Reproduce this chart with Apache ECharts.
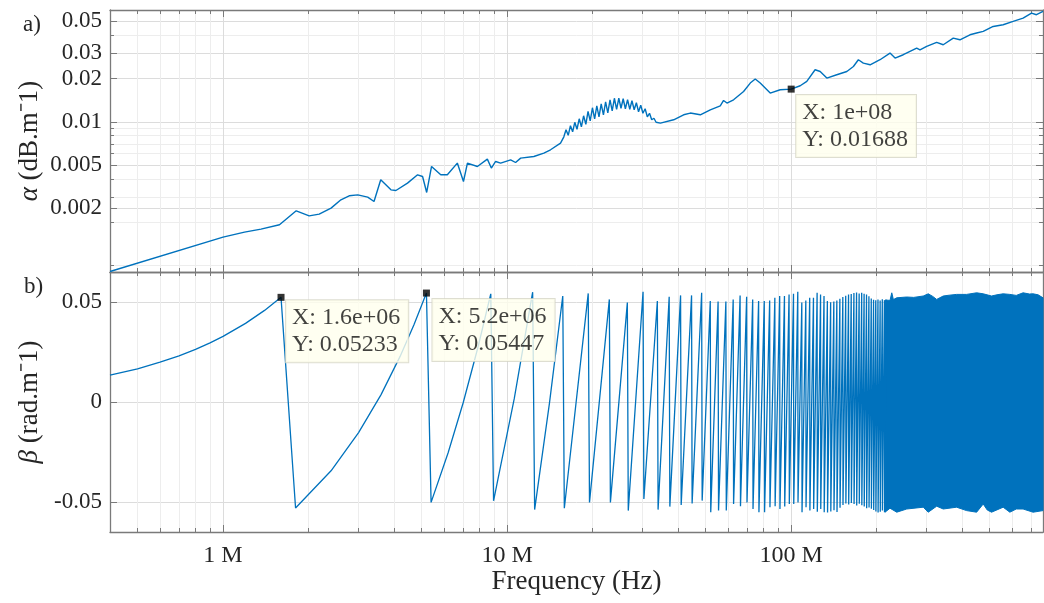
<!DOCTYPE html>
<html>
<head>
<meta charset="utf-8">
<script src="https://cdn.jsdelivr.net/npm/echarts@6/dist/echarts.min.js"></script>
<style>
  html, body { margin: 0; padding: 0; background: #ffffff; }
  #chart { width: 1044px; height: 603px; }
</style>
</head>
<body>
<div id="chart"></div>
<script>
// Frequencies are in MHz throughout.

// a) attenuation alpha (dB/m) versus frequency
const alphaPoints = [
  [0.4, 0.000907], [1.0, 0.001574], [1.19, 0.001706], [1.36, 0.00179], [1.58, 0.001918],
  [1.81, 0.0024], [2.01, 0.002215], [2.18, 0.002277], [2.40, 0.002506], [2.60, 0.002862],
  [2.78, 0.003053], [2.98, 0.003101], [3.23, 0.00299], [3.40, 0.002786], [3.59, 0.003946],
  [3.90, 0.00336], [4.06, 0.003322], [4.46, 0.003741], [4.84, 0.004274], [5.04, 0.004159],
  [5.21, 0.003219], [5.42, 0.004884], [5.84, 0.004274], [6.16, 0.004274], [6.68, 0.005158],
  [7.02, 0.003839], [7.25, 0.005158], [7.86, 0.004884], [8.52, 0.005497], [8.80, 0.004761],
  [9.11, 0.005292], [9.49, 0.005158], [10.29, 0.005437], [10.71, 0.005207], [11.16, 0.005586],
  [12.42, 0.005732], [13.47, 0.006053], [14.22, 0.006383], [15.42, 0.007105],
  [15.84, 0.00786], [16.12, 0.00880], [16.41, 0.00805], [16.71, 0.00938], [17.01, 0.00852],
  [17.31, 0.00992], [17.62, 0.00887], [17.94, 0.01049], [18.26, 0.00923], [18.59, 0.01101],
  [18.93, 0.00961], [19.27, 0.01183], [19.61, 0.01016], [19.97, 0.01252], [20.33, 0.01049],
  [20.69, 0.01292], [21.06, 0.01083], [21.44, 0.01334], [21.83, 0.01119], [22.22, 0.01378],
  [22.62, 0.01155], [23.03, 0.01423], [23.44, 0.01193], [23.86, 0.01458], [24.29, 0.01222],
  [24.73, 0.01458], [25.17, 0.01242], [25.62, 0.01446], [26.08, 0.01232], [26.55, 0.01423],
  [27.03, 0.01222], [27.51, 0.01400], [28.01, 0.01212], [28.51, 0.01356], [29.02, 0.01174],
  [29.54, 0.01303], [30.07, 0.01146], [30.61, 0.01232], [31.16, 0.01083], [31.72, 0.01146],
  [32.29, 0.01033], [32.87, 0.01058], [33.46, 0.00992], [34.64, 0.00979], [38.58, 0.01033],
  [41.82, 0.01119], [44.16, 0.01150], [47.87, 0.01119], [51.91, 0.01212], [56.28, 0.01292],
  [57.81, 0.01407], [59.43, 0.01350], [62.69, 0.01423], [67.99, 0.01626], [71.77, 0.01860],
  [74.73, 0.01984], [77.81, 0.01860], [84.37, 0.01585], [91.47, 0.01671], [100, 0.01688],
  [107.6, 0.01781], [113.5, 0.01909], [121.4, 0.02302], [126.5, 0.02240], [133.5, 0.02015],
  [144.7, 0.02125], [157.0, 0.02240], [165.6, 0.02427], [172.4, 0.02703], [179.5, 0.02563],
  [189.6, 0.02494], [205.5, 0.02703], [222.8, 0.03009], [232.1, 0.02777], [248.1, 0.02929],
  [276.6, 0.03261], [284.1, 0.03172], [299.9, 0.03345], [325.2, 0.03566], [343.0, 0.03437],
  [372.0, 0.03827], [392.7, 0.03724], [425.9, 0.04035], [449.6, 0.04147], [474.3, 0.04255],
  [514.1, 0.04610], [557.5, 0.04738], [604.3, 0.04994], [655.3, 0.05274], [701.5, 0.05714],
  [730.4, 0.05562], [770, 0.05862]
];

// b) wrapped phase constant beta (rad/m): rising ramps, each ending in a drop
const betaPoints = [
  [0.4, 0.0134], [0.5, 0.0166], [0.6, 0.0199], [0.7, 0.0231], [0.8, 0.0263], [0.9, 0.0296],
  [1.0, 0.0328], [1.2, 0.0393], [1.4, 0.0458], [1.6, 0.05233],
  [1.8, -0.0530], [2.4, -0.0344], [3.0, -0.0153], [3.6, 0.0037], [4.2, 0.0228], [4.7, 0.0386], [5.2, 0.05447],
  [5.4, -0.0502], [6.2, -0.0254], [7.0, -0.0005], [7.9, 0.0275], [8.76, 0.0541],
  [8.96, -0.0494], [10.6, 0.0018], [12.3, 0.0549],
  [12.5, -0.0538], [14.1, -0.0004], [15.7, 0.0530],
  [15.9, -0.0531], [19.3, 0.0543],
  [19.5, -0.0502], [22.9, 0.0513],
  [23.1, -0.0502], [26.5, 0.0497],
  [26.7, -0.0543], [30.1, 0.0551],
  [30.3, -0.0485], [33.8, 0.0505],
  [34.0, -0.0538], [37.2, 0.0526],
  [37.4, -0.0523], [40.8, 0.0533],
  [41.0, -0.0515], [44.6, 0.0533],
  [44.8, -0.0507], [48.4, 0.0546],
  [48.6, -0.0493], [51.9, 0.0505],
  [52.1, -0.0551], [55.3, 0.0502],
  [55.5, -0.0543], [58.9, 0.0502],
  [59.1, -0.0543], [62.5, 0.0513],
  [62.7, -0.0510], [66.1, 0.0533],
  [66.3, -0.0521], [69.7, 0.0526],
  [69.9, -0.0502], [73.2, 0.0513],
  [73.4, -0.0535], [76.8, 0.0505],
  [77.0, -0.0551], [80.4, 0.0505],
  [80.6, -0.0551], [84.0, 0.0508],
  [84.2, -0.0526], [87.6, 0.0521],
  [87.8, -0.0521], [91.1, 0.0530],
  [91.3, -0.0535], [94.7, 0.0530],
  [94.9, -0.0523], [98.3, 0.0538],
  [98.5, -0.0510], [101.9, 0.0541],
  [102.1, -0.0510], [105.5, 0.0551],
  [105.7, -0.0502], [109.0, 0.0497],
  [109.2, -0.0551], [112.6, 0.0508],
  [112.8, -0.0526], [116.2, 0.0521],
  [116.4, -0.0543], [119.8, 0.0521],
  [120.0, -0.0535], [123.4, 0.0546],
  [123.6, -0.0549], [126.9, 0.0538],
  [127.1, -0.0535], [130.5, 0.0530],
  [130.7, -0.0551], [134.1, 0.0505],
  [134.3, -0.0553], [137.7, 0.0499],
  [137.9, -0.0548], [141.3, 0.0503],
  [141.5, -0.0541], [144.8, 0.0508],
  [145.0, -0.0550], [148.4, 0.0516],
  [148.6, -0.0529], [152.0, 0.0525],
  [152.2, -0.0515], [155.6, 0.0531],
  [155.8, -0.0508], [159.2, 0.0537],
  [159.4, -0.0512], [162.7, 0.0540],
  [162.9, -0.0505], [166.3, 0.0545],
  [166.5, -0.0510], [169.9, 0.0548],
  [170.1, -0.0518], [173.5, 0.0543],
  [173.7, -0.0509], [177.1, 0.0546],
  [177.3, -0.0516], [180.6, 0.0541],
  [180.8, -0.0522], [184.2, 0.0537],
  [184.4, -0.0531], [187.8, 0.0529],
  [188.0, -0.0527], [191.4, 0.0518],
  [191.6, -0.0534], [195.0, 0.0511],
  [195.2, -0.0540], [198.5, 0.0509],
  [198.7, -0.0547], [202.1, 0.0512],
  [202.3, -0.0552], [205.7, 0.0508],
  [205.9, -0.0549], [209.3, 0.0514],
  [209.5, -0.0543], [212.9, 0.0509],
  [213.1, -0.0551], [216.4, 0.0511]
];

// upper and lower edges of the region where the ramps merge into a solid band
const bandTop = [
  [214, 0.0510], [222.8, 0.0508], [226, 0.0546], [229, 0.0512], [235.3, 0.0521], [255.1, 0.0525],
  [270, 0.0523], [291.7, 0.0530], [303.8, 0.0541], [315, 0.0528], [325.2, 0.0513], [343, 0.0530],
  [360, 0.0534], [382.2, 0.0538], [414.5, 0.0538], [449.6, 0.0546], [474.3, 0.0541], [507.5, 0.0530],
  [530, 0.0536], [557.5, 0.0541], [588.6, 0.0538], [620, 0.0533], [655.3, 0.0546], [690, 0.0540],
  [710.7, 0.0541], [740, 0.0536], [770, 0.0521]
];
const bandBottom = [
  [214, -0.0551], [222.8, -0.0531], [235.3, -0.0551], [255.1, -0.0535], [291.7, -0.0526],
  [303.8, -0.0551], [325.2, -0.0521], [343, -0.0535], [382.2, -0.0526], [414.5, -0.0543],
  [449.6, -0.0551], [474.3, -0.0510], [490, -0.0540], [507.5, -0.0551], [557.5, -0.0526],
  [588.6, -0.0551], [620, -0.0535], [655.3, -0.0535], [710.7, -0.0551], [770, -0.0543]
];

// data tips
const alphaTips = [[100, 0.01688]];
const betaTips = [[1.6, 0.05233], [5.2, 0.05447]];

// axis ranges and ticks
const freqRange = [0.4, 770];
const freqTicks = [1, 10, 100];
const freqTickLabels = ['1 M', '10 M', '100 M'];
const freqMinorTicks = [0.5, 0.6, 0.7, 0.8, 0.9, 2, 3, 4, 5, 6, 7, 8, 9,
  20, 30, 40, 50, 60, 70, 80, 90, 200, 300, 400, 500, 600, 700];
const alphaRange = [0.0009, 0.06];
const alphaTicks = [0.0025, 0.005, 0.01, 0.02, 0.03, 0.05];
const alphaTickLabels = ['0.002', '0.005', '0.01', '0.02', '0.03', '0.05'];
const alphaMinorTicks = [0.001, 0.002, 0.003, 0.004, 0.006, 0.007, 0.008, 0.009, 0.04];
const betaRange = [-0.065, 0.065];
const betaTicks = [-0.05, 0, 0.05];
const betaTickLabels = ['-0.05', '0', '0.05'];

const BLUE = '#0072BD';
const AXIS = '#7a7a7a';
const GRID_MAJOR = '#dcdcdc';
const GRID_MINOR = '#ededed';
const TEXT = '#262626';
const FONT = '"Liberation Serif", "Times New Roman", serif';

// %.4g style number text, e.g. 1e+08, 1.6e+06, 0.01688
function gFormat(v) {
  if (v === 0) return '0';
  const e = Math.floor(Math.log10(Math.abs(v)) + 1e-12);
  if (e < -5 || e >= 4) {
    const m = String(parseFloat((v / Math.pow(10, e)).toPrecision(4)));
    const ee = Math.abs(e);
    return m + 'e' + (e < 0 ? '-' : '+') + (ee < 10 ? '0' : '') + ee;
  }
  return String(parseFloat(v.toPrecision(4)));
}

function labelFor(values, labels) {
  return function (v) {
    for (let i = 0; i < values.length; i++) {
      if (Math.abs(v - values[i]) <= Math.abs(values[i]) * 1e-6 + 1e-12) return labels[i];
    }
    return '';
  };
}

function tickAxis(extra, ticks, len, showLine, splitColor) {
  return Object.assign({
    axisLine: { show: showLine, onZero: false, lineStyle: { color: AXIS, width: 1.3 } },
    axisTick: { show: true, inside: true, length: len, customValues: ticks, lineStyle: { color: AXIS, width: 1 } },
    splitLine: splitColor ? { show: true, lineStyle: { color: splitColor, width: 1 } } : { show: false },
    minorTick: { show: false },
    minorSplitLine: { show: false },
    axisLabel: { show: false },
    nameMoveOverlap: false
  }, extra);
}

function freqAxes(gridIndex, withLabels) {
  const base = { type: 'log', logBase: 10, gridIndex: gridIndex, min: freqRange[0], max: freqRange[1] };
  const major = tickAxis(Object.assign({ position: 'bottom' }, base), freqTicks, 7, true, GRID_MAJOR);
  if (withLabels) {
    major.axisLabel = {
      show: true, customValues: freqTicks, formatter: labelFor(freqTicks, freqTickLabels),
      margin: 12, fontFamily: FONT, fontSize: 24, color: TEXT
    };
    major.name = 'Frequency (Hz)';
    major.nameLocation = 'middle';
    major.nameGap = 36;
    major.nameTextStyle = { fontFamily: FONT, fontSize: 27, color: TEXT };
  }
  return [
    major,
    tickAxis(Object.assign({ position: 'bottom' }, base), freqMinorTicks, 4, false, GRID_MINOR),
    tickAxis(Object.assign({ position: 'top' }, base), freqTicks, 7, true, null),
    tickAxis(Object.assign({ position: 'top' }, base), freqMinorTicks, 4, false, null)
  ];
}

const yNameStyle = {
  fontFamily: FONT, fontSize: 27, color: TEXT,
  rich: { i: { fontFamily: FONT, fontSize: 27, fontStyle: 'italic', color: TEXT } }
};

const alphaBase = { type: 'log', logBase: 10, gridIndex: 0, min: alphaRange[0], max: alphaRange[1] };
const alphaLeft = tickAxis(Object.assign({ position: 'left' }, alphaBase), alphaTicks, 7, true, GRID_MAJOR);
alphaLeft.axisLabel = {
  show: true, customValues: alphaTicks, formatter: labelFor(alphaTicks, alphaTickLabels),
  margin: 8, fontFamily: FONT, fontSize: 23, color: TEXT
};
alphaLeft.name = '{i|\u03B1} (dB.m\u207B1)';
alphaLeft.nameLocation = 'middle';
alphaLeft.nameGap = 67;
alphaLeft.nameTextStyle = yNameStyle;

const betaBase = { type: 'value', gridIndex: 1, min: betaRange[0], max: betaRange[1] };
const betaLeft = tickAxis(Object.assign({ position: 'left' }, betaBase), betaTicks, 7, true, GRID_MAJOR);
betaLeft.axisLabel = {
  show: true, customValues: betaTicks, formatter: labelFor(betaTicks, betaTickLabels),
  margin: 8, fontFamily: FONT, fontSize: 23, color: TEXT
};
betaLeft.name = '{i|\u03B2} (rad.m\u207B1)';
betaLeft.nameLocation = 'middle';
betaLeft.nameGap = 67;
betaLeft.nameTextStyle = yNameStyle;

const yAxes = [
  alphaLeft,                                                                              // 0
  tickAxis(Object.assign({ position: 'left' }, alphaBase), alphaMinorTicks, 4, false, GRID_MINOR), // 1
  tickAxis(Object.assign({ position: 'right' }, alphaBase), alphaTicks, 7, true, null),    // 2
  tickAxis(Object.assign({ position: 'right' }, alphaBase), alphaMinorTicks, 4, false, null), // 3
  betaLeft,                                                                               // 4
  tickAxis(Object.assign({ position: 'right' }, betaBase), betaTicks, 7, true, null)       // 5
];

const xAxes = freqAxes(0, false).concat(freqAxes(1, true)); // 0-3 top panel, 4-7 bottom panel

const tipLabel = {
  show: true,
  formatter: function (p) { return 'X: ' + gFormat(p.value[0] * 1e6) + '\nY: ' + gFormat(p.value[1]); },
  align: 'left', verticalAlign: 'top',
  backgroundColor: '#ffffed', borderColor: '#d6d6c6', borderWidth: 1,
  padding: [4, 8, 4, 6], fontFamily: FONT, fontSize: 24, lineHeight: 27,
  color: '#111111', textBorderWidth: 0, textBorderColor: 'transparent'
};
// label box offsets relative to each tip marker
const alphaTipOffsets = [[8.5, 9.5]];
const betaTipOffsets = [[8.5, 6.5], [9.5, 9.5]];

function tipData(points, offsets) {
  return points.map(function (p, i) {
    return { value: p, label: { position: offsets[i] } };
  });
}

const option = {
  animation: false,
  backgroundColor: '#ffffff',
  grid: [
    { left: 110, top: 10, width: 933, height: 262, outerBoundsMode: 'none', containLabel: false },
    { left: 110, top: 272, width: 933, height: 260, outerBoundsMode: 'none', containLabel: false }
  ],
  xAxis: xAxes,
  yAxis: yAxes,
  graphic: [
    { type: 'text', left: 23, top: 13, style: { text: 'a)', font: '23px ' + FONT, fill: TEXT } },
    { type: 'text', left: 24, top: 275, style: { text: 'b)', font: '23px ' + FONT, fill: TEXT } }
  ],
  series: [
    {
      name: 'alpha', type: 'line', xAxisIndex: 0, yAxisIndex: 0,
      data: alphaPoints, showSymbol: false, symbol: 'none', z: 3,
      lineStyle: { color: BLUE, width: 1.4 }
    },
    {
      name: 'beta', type: 'line', xAxisIndex: 4, yAxisIndex: 4,
      data: betaPoints, showSymbol: false, symbol: 'none', z: 3,
      lineStyle: { color: BLUE, width: 1.3 }
    },
    {
      name: 'beta band', type: 'custom', xAxisIndex: 4, yAxisIndex: 4, z: 3,
      data: bandTop,
      renderItem: function (params, api) {
        if (params.dataIndex !== 0) return null;
        const pts = bandTop.map(function (p) { return api.coord(p); })
          .concat(bandBottom.slice().reverse().map(function (p) { return api.coord(p); }));
        return { type: 'polygon', shape: { points: pts }, style: { fill: BLUE, stroke: BLUE, lineWidth: 1 } };
      }
    },
    {
      name: 'alpha tip', type: 'scatter', xAxisIndex: 0, yAxisIndex: 0, z: 10,
      symbol: 'rect', symbolSize: 7, itemStyle: { color: '#000000' },
      label: tipLabel, data: tipData(alphaTips, alphaTipOffsets)
    },
    {
      name: 'beta tips', type: 'scatter', xAxisIndex: 4, yAxisIndex: 4, z: 10,
      symbol: 'rect', symbolSize: 7, itemStyle: { color: '#000000' },
      label: tipLabel, data: tipData(betaTips, betaTipOffsets)
    }
  ]
};

const chart = echarts.init(document.getElementById('chart'), null, { renderer: 'canvas' });
chart.setOption(option);
</script>
</body>
</html>
